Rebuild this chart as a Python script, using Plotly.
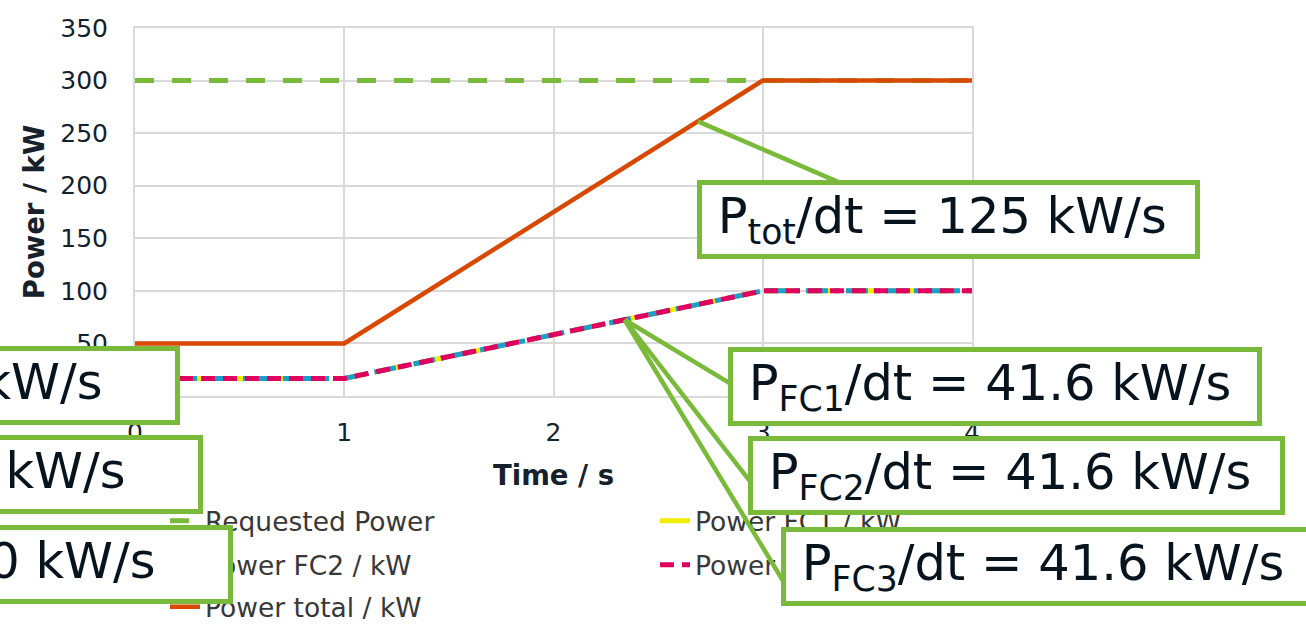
import numpy as np
import plotly.graph_objects as go

# ---- data -------------------------------------------------------------
time_s = [0, 1, 3, 4]
requested_kw = [300, 300, 300, 300]
fc1_kw = [16.7, 16.7, 100, 100]
fc2_kw = [16.7, 16.7, 100, 100]
fc3_kw = [16.7, 16.7, 100, 100]
total_kw = [50, 50, 300, 300]

series_names = ["Requested Power", "Power FC1 / kW", "Power FC2 / kW",
                "Power FC3 / kW", "Power total / kW"]

x_ticks = [0, 1, 2, 3, 4]
y_ticks = [0, 50, 100, 150, 200, 250, 300, 350]

# ramp-rate callouts
total_rate_text = "P<sub>tot</sub>/dt = 125 kW/s"
fc_rate_texts = ["P<sub>FC1</sub>/dt = 41.6 kW/s",
                 "P<sub>FC2</sub>/dt = 41.6 kW/s",
                 "P<sub>FC3</sub>/dt = 41.6 kW/s"]
idle_rate_texts = ["P<sub>FC1</sub>/dt = 0 kW/s",
                   "P<sub>FC2</sub>/dt = 0 kW/s",
                   "P<sub>FC3</sub>/dt = 0 kW/s"]
total_callout_t = 2.69
fc_callout_t = 2.34

# ---- style ------------------------------------------------------------
GREEN = "#7aba3a"
ORANGE = "#d94800"
YELLOW = "#f0ee00"
CYAN = "#1a9fcc"
MAGENTA = "#e0005e"
GRID = "#d9d9d9"
INK = "#16212b"
FONT = "DejaVu Sans"

W, H = 1306, 627
ML, MR, MT, MB = 135, 334, 28, 231
PW, PH = W - ML - MR, H - MT - MB


def px(xp):
    return (xp - ML) / PW


def py(yp):
    return (H - MB - yp) / PH


fig = go.Figure()

# each legend entry gets its own legend box: two columns, three rows
legend_ids = ["legend", "legend2", "legend4", "legend5", "legend3"]
legend_spots = {  # text left px, row centre px
    "legend": (205, 521), "legend2": (695, 521),
    "legend3": (205, 607), "legend4": (205, 565), "legend5": (695, 565),
}

line_styles = [
    dict(color=GREEN, width=5, dash="19px,18px"),
    dict(color=YELLOW, width=5, dash="30px,10px"),
    dict(color=CYAN, width=5, dash="22px,6px,6px,6px"),
    dict(color=MAGENTA, width=5, dash="14px,8px"),
    dict(color=ORANGE, width=4.5),
]
series_values = [requested_kw, fc1_kw, fc2_kw, fc3_kw, total_kw]
for vals, line, name, lg in zip(series_values, line_styles, series_names,
                                legend_ids):
    fig.add_trace(go.Scatter(x=time_s, y=vals, mode="lines", name=name,
                             line=line, legend=lg, hoverinfo="skip"))

# ---- callouts ---------------------------------------------------------
annotations = []
green_line = dict(showarrow=True, arrowhead=0, arrowwidth=4.5,
                  arrowcolor=GREEN, text="", xref="x", yref="y",
                  axref="pixel", ayref="pixel", standoff=0)

p_anchor = float(np.interp(total_callout_t, time_s, total_kw))
annotations.append(dict(x=total_callout_t, y=p_anchor, ax=141, ay=61,
                        **green_line))

p_fc_anchor = float(np.interp(fc_callout_t, time_s, fc1_kw))
for ax, ay in [(111, 67), (132, 170), (165, 272)]:
    annotations.append(dict(x=fc_callout_t, y=p_fc_anchor, ax=ax, ay=ay,
                            **green_line))

box_style = dict(xref="paper", yref="paper", xanchor="left", yanchor="top",
                 showarrow=False, align="left", valign="middle",
                 bgcolor="white", bordercolor=GREEN, borderwidth=5,
                 borderpad=0, font=dict(family=FONT, size=49.5, color="#07141d"))

# (text, left px, top px, outer width px)
boxes = [
    (total_rate_text, 697, 180, 503),
    (fc_rate_texts[0], 728, 347, 534),
    (fc_rate_texts[1], 748, 436, 537),
    (fc_rate_texts[2], 781, 527, 545),
    (idle_rate_texts[0], -322, 346, 502),
    (idle_rate_texts[1], -299, 435, 502),
    (idle_rate_texts[2], -269, 525, 502),
]
for text, left, top, width in boxes:
    annotations.append(dict(text="\u00a0" + text, x=px(left), y=py(top),
                            width=width - 10, height=69, **box_style))

legend_common = dict(orientation="v", xanchor="left", yanchor="middle",
                     bgcolor="rgba(0,0,0,0)", borderwidth=0,
                     font=dict(family=FONT, size=26.5, color="#383838"),
                     itemclick=False, itemdoubleclick=False)
legend_layout = {
    lg: dict(x=px(tx - 40), y=py(ty), **legend_common)
    for lg, (tx, ty) in legend_spots.items()
}

fig.update_layout(
    width=W, height=H,
    margin=dict(l=ML, r=MR, t=MT, b=MB, autoexpand=False),
    paper_bgcolor="white", plot_bgcolor="white",
    font=dict(family=FONT, color=INK),
    showlegend=True,
    annotations=annotations,
    xaxis=dict(range=[0, 4], tickvals=x_ticks, showgrid=True,
               gridcolor=GRID, gridwidth=2, zeroline=False,
               showline=True, linecolor=GRID, linewidth=2, mirror=True,
               ticks="", ticklabelstandoff=13,
               tickfont=dict(family=FONT, size=25, color=INK),
               title=dict(text="<b>Time / s</b>", standoff=20,
                          font=dict(family=FONT, size=27.5, color=INK)),
               fixedrange=True),
    yaxis=dict(range=[0, 350], tickvals=y_ticks, showgrid=True,
               gridcolor=GRID, gridwidth=2, zeroline=False,
               showline=True, linecolor=GRID, linewidth=2, mirror=True,
               ticks="", ticklabelstandoff=20,
               tickfont=dict(family=FONT, size=25, color=INK),
               title=dict(text="<b>Power / kW</b>", standoff=8,
                          font=dict(family=FONT, size=27.5, color=INK)),
               fixedrange=True),
    **legend_layout,
)

fig.write_html("out.html", config=dict(displayModeBar=False))
